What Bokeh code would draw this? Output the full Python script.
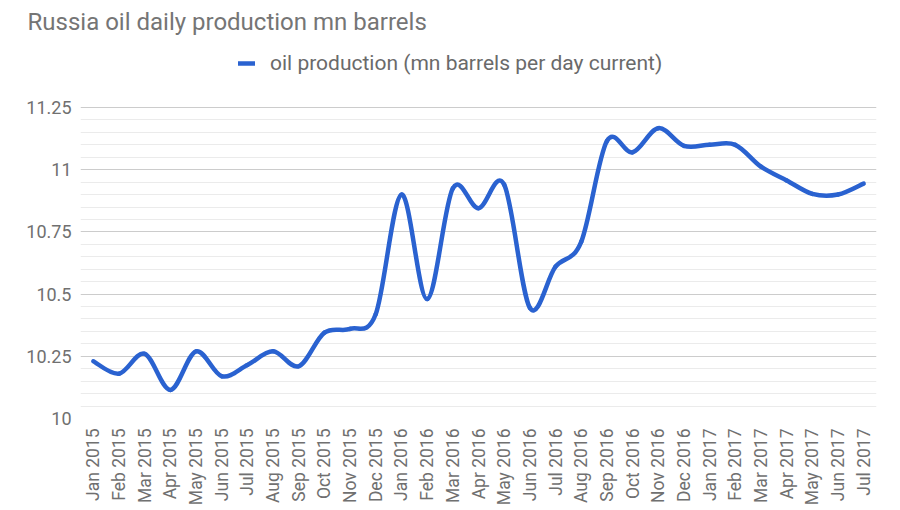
import math
import numpy as np
from bokeh.plotting import figure
from bokeh.models import (Range1d, FixedTicker, CustomJSTickFormatter, Legend, LegendItem,
                          ColumnDataSource)
from bokeh.embed import file_html
from bokeh.resources import INLINE

months = ["Jan 2015", "Feb 2015", "Mar 2015", "Apr 2015", "May 2015", "Jun 2015",
          "Jul 2015", "Aug 2015", "Sep 2015", "Oct 2015", "Nov 2015", "Dec 2015",
          "Jan 2016", "Feb 2016", "Mar 2016", "Apr 2016", "May 2016", "Jun 2016",
          "Jul 2016", "Aug 2016", "Sep 2016", "Oct 2016", "Nov 2016", "Dec 2016",
          "Jan 2017", "Feb 2017", "Mar 2017", "Apr 2017", "May 2017", "Jun 2017",
          "Jul 2017"]
production = [10.23, 10.18, 10.26, 10.115, 10.27, 10.17, 10.215, 10.27, 10.21, 10.345,
              10.36, 10.42, 10.90, 10.48, 10.925, 10.845, 10.94, 10.445, 10.61, 10.71,
              11.115, 11.07, 11.167, 11.096, 11.10, 11.10, 11.012, 10.957, 10.903, 10.90,
              10.944]
y_ticks = [10, 10.25, 10.5, 10.75, 11, 11.25]

title_text = "Russia oil daily production mn barrels"
series_name = "oil production (mn barrels per day current)"

FONT = "Roboto"
BLUE = "#2a62d0"

# smooth curve (Catmull-Rom -> cubic Bezier segments) built from the data
xs = np.arange(len(production), dtype=float)
ys = np.array(production, dtype=float)
xp = np.concatenate([[xs[0]], xs, [xs[-1]]])
yp = np.concatenate([[ys[0]], ys, [ys[-1]]])
n = len(xs)
x0 = xs[:-1]; y0 = ys[:-1]; x1 = xs[1:]; y1 = ys[1:]
cx0 = x0 + (xp[2:n + 1] - xp[0:n - 1]) / 6.0
cy0 = y0 + (yp[2:n + 1] - yp[0:n - 1]) / 6.0
cx1 = x1 - (xp[3:n + 2] - xp[1:n]) / 6.0
cy1 = y1 - (yp[3:n + 2] - yp[1:n]) / 6.0
src = ColumnDataSource(dict(x0=x0, y0=y0, x1=x1, y1=y1, cx0=cx0, cy0=cy0, cx1=cx1, cy1=cy1))

# frame: 796 x 380 px; 1.25 units of y span 311 px -> headroom above 11.25 holds the legend
FRAME_W, FRAME_H = 796, 380
y_top = 10 + 1.25 * FRAME_H / 311.0

p = figure(width=884, height=505, output_backend="svg", toolbar_location=None,
           frame_width=FRAME_W, frame_height=FRAME_H,
           x_range=Range1d(-0.5, len(months) - 0.5), y_range=Range1d(10, y_top),
           min_border_left=80, min_border_right=8, min_border_top=38, min_border_bottom=87,
           title=title_text)
p.outline_line_color = None
p.background_fill_color = "white"
p.border_fill_color = "white"

p.title.align = "left"
p.title.offset = -53
p.title.standoff = 5
p.title.text_font = FONT
p.title.text_font_size = "24px"
p.title.text_font_style = "normal"
p.title.text_color = "#757575"

r = p.bezier(x0="x0", y0="y0", x1="x1", y1="y1", cx0="cx0", cy0="cy0", cx1="cx1", cy1="cy1",
             source=src, line_color=BLUE, line_width=4.5, line_cap="round", line_join="round")

# y axis
minor = [round(10 + 0.05 * i, 2) for i in range(26) if i % 5 != 0]
p.yaxis.ticker = FixedTicker(ticks=y_ticks, minor_ticks=minor)
p.yaxis.formatter = CustomJSTickFormatter(code="return String(Math.round(tick*100)/100);")
p.yaxis.axis_line_color = None
p.yaxis.major_tick_line_color = None
p.yaxis.minor_tick_line_color = None
p.yaxis.major_tick_out = 0
p.yaxis.minor_tick_out = 0
p.yaxis.major_label_standoff = 9
p.yaxis.major_label_text_font = FONT
p.yaxis.major_label_text_font_size = "18px"
p.yaxis.major_label_text_color = "#707070"

# x axis
p.xaxis.ticker = FixedTicker(ticks=list(range(len(months))))
p.xaxis.major_label_overrides = {i: m for i, m in enumerate(months)}
p.xaxis.major_label_orientation = math.pi / 2
p.xaxis.axis_line_color = None
p.xaxis.major_tick_line_color = None
p.xaxis.minor_tick_line_color = None
p.xaxis.major_tick_out = 0
p.xaxis.minor_tick_out = 0
p.xaxis.major_label_standoff = 10
p.xaxis.major_label_text_font = FONT
p.xaxis.major_label_text_font_size = "17.5px"
p.xaxis.major_label_text_color = "#707070"

p.xgrid.grid_line_color = None
p.ygrid.grid_line_color = "#cccccc"
p.ygrid.grid_line_width = 1
p.ygrid.minor_grid_line_color = "#ebebeb"
p.ygrid.minor_grid_line_width = 1

# legend in the headroom of the frame
legend = Legend(items=[LegendItem(label=series_name, renderers=[r])],
                location=(158, 343), orientation="horizontal",
                background_fill_alpha=0, border_line_alpha=0, padding=0, margin=0,
                glyph_width=17, glyph_height=20, label_standoff=15,
                label_text_font=FONT, label_text_font_size="21px",
                label_text_color="#6a6a6a", label_height=20)
p.add_layout(legend)

open("out.html", "w").write(file_html(p, INLINE))
